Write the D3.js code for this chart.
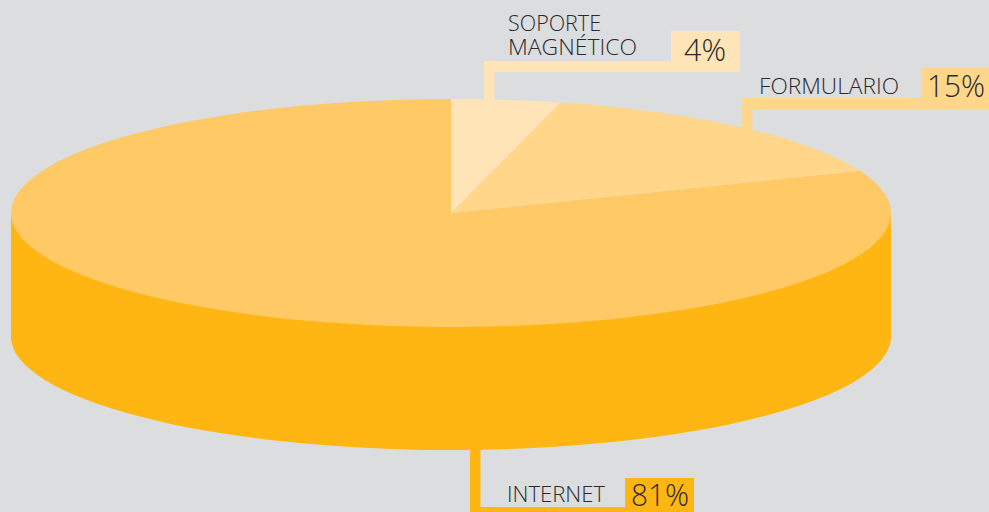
<!DOCTYPE html>
<html><head><meta charset="utf-8">
<script src="https://cdn.jsdelivr.net/npm/d3@7"></script>
<style>html,body{margin:0;padding:0;background:#dcdddf;overflow:hidden}svg{display:block}
text{font-family:"Open Sans",sans-serif;fill:#2a2a2a}</style></head>
<body><svg id="c" width="989" height="512"></svg>
<script>
const categories = ["SOPORTE MAGNÉTICO","FORMULARIO","INTERNET"];
const values = [4,15,81];
const valueLabels = ["4%","15%","81%"];
const topColors = ["#ffe4b8","#ffd68a","#ffc966"];
const leaderColors = ["#ffe4b8","#ffd68a","#ffb612"];
const sideColor = "#ffb612";

const svg = d3.select("#c");
const cx=451, cy=213, rx=440, ry=114, depth=123;
const pie = d3.pie().sort(null).value(d=>d)(values);
const arc = d3.arc().innerRadius(0).outerRadius(rx);
const squash = `scale(1,${ry/rx})`;

// side wall
svg.append("rect").attr("x",cx-rx).attr("y",cy).attr("width",2*rx).attr("height",depth).attr("fill",sideColor);
svg.append("path").attr("transform",`translate(${cx},${cy+depth}) ${squash}`)
  .attr("d",arc({startAngle:0,endAngle:2*Math.PI})).attr("fill",sideColor);

// top face
svg.append("g").attr("transform",`translate(${cx},${cy}) ${squash}`)
  .selectAll("path").data(pie).join("path").attr("d",arc).attr("fill",(d,i)=>topColors[i]);

// leaders
const leaders = [
 {i:0,vx:484,vy:61,vh:40,hy:61,hh:11,hw:190,bx:671,by:31,bw:69,bh:41},
 {i:1,vx:742,vy:98,vh:32,hy:98,hh:11,hw:180,bx:921,by:68,bw:68,bh:41},
 {i:2,vx:470,vy:448,vh:64,hy:507,hh:5,hw:156,bx:625,by:478,bw:69,bh:34}
];
const g = svg.append("g");
leaders.forEach(l=>{
  const c=leaderColors[l.i];
  g.append("rect").attr("x",l.vx).attr("y",l.vy).attr("width",10.5).attr("height",l.vh).attr("fill",c);
  g.append("rect").attr("x",l.vx).attr("y",l.hy).attr("width",l.hw).attr("height",l.hh).attr("fill",c);
  g.append("rect").attr("x",l.bx).attr("y",l.by).attr("width",l.bw).attr("height",l.bh).attr("fill",c);
});

const lab=(t,x,y,s,w)=>{
  const e=svg.append("text").attr("x",x).attr("y",y).attr("font-size",s).attr("font-weight",300).text(t);
  if(w) e.attr("textLength",w).attr("lengthAdjust","spacingAndGlyphs");
};
lab("SOPORTE",508,31,22,93);
lab("MAGNÉTICO",508,55,22,129);
lab(categories[1],759,94,22,140);
lab(categories[2],507,502,22,98);
lab(valueLabels[0],684,61,31,42);
lab(valueLabels[1],927,97,31,58);
lab(valueLabels[2],631,506,31,58);
</script></body></html>
